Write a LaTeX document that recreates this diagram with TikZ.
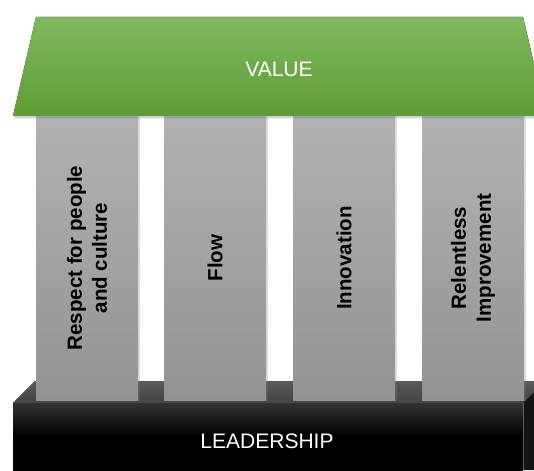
\documentclass[tikz,border=0pt]{standalone}
\usepackage{fontspec}
\setmainfont{Liberation Sans}
\usetikzlibrary{shadows}

\definecolor{roofTop}{HTML}{80B860}
\definecolor{roofBot}{HTML}{5E9D34}
\definecolor{pillarTop}{HTML}{B2B2B2}
\definecolor{pillarBot}{HTML}{939393}
\definecolor{baseTop}{HTML}{5A5A5A}
\definecolor{baseSide}{HTML}{151515}

\begin{document}
\begin{tikzpicture}[x=1pt,y=-1pt]
          \tikzset{pillar/.style={draw=none,top color=pillarTop,bottom color=pillarBot,
                     minimum width=102pt,minimum height=284pt,inner sep=0pt,
                     drop shadow={opacity=0.25,shadow xshift=1.5pt,shadow yshift=-1pt}},
                   pillartext/.style={rotate=90,align=center,font=\fontsize{20.5}{25}\selectfont\bfseries},
                   captext/.style={text=white,font=\fontsize{21}{24}\selectfont}};
          \useasboundingbox (0,0) rectangle (534,470);

          % base
          \fill[top color=baseTop,bottom color=baseTop!75!black] (13,403) -- (35,381) -- (546,381) -- (523,403) -- cycle;
          \fill[baseSide] (523,403) -- (546,381) -- (546,470) -- (523,470) -- cycle;
          \draw[black!60,line width=0.6pt] (523,403) -- (523,470);
          \fill[top color=black!80,bottom color=black,middle color=black] (13,403) rectangle (523,470);
          \node[captext] (lead) at (267,441) {LEADERSHIP};

          % pillars
          \node[pillar] (p1) at (87,258) {};
          \node[pillar] (p2) at (215,258) {};
          \node[pillar] (p3) at (344,258) {};
          \node[pillar] (p4) at (473,258) {};
          \node[pillartext] (t1) at (p1) {Respect for people\\and culture};
          \node[pillartext] (t2) at (p2) {Flow};
          \node[pillartext] (t3) at (p3) {Innovation};
          \node[pillartext] (t4) at (p4) {Relentless\\Improvement};

          % roof
          \fill[top color=roofTop,bottom color=roofBot,
                drop shadow={opacity=0.35,shadow xshift=1pt,shadow yshift=-2.5pt}]
                (36,17) -- (523,17) -- (546,116) -- (13,116) -- cycle;
          \node[captext] (value) at (279,69) {VALUE};
        \end{tikzpicture}
\end{document}
